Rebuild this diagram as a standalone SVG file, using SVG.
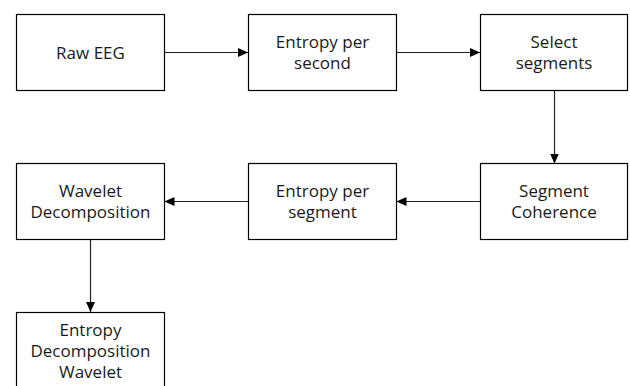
<svg xmlns="http://www.w3.org/2000/svg" width="630" height="386" viewBox="0 0 630 386">
<style>
.box{fill:#fff;stroke:#000;stroke-width:1.2}
.t{font-family:"Open Sans","Liberation Sans",sans-serif;font-size:17px;fill:#1a1a1a;text-anchor:middle}
.c{stroke:#222;stroke-width:1.2;fill:none}
</style>
<defs>
<marker id="ah" viewBox="0 0 10 9" refX="10" refY="4.5" markerWidth="10" markerHeight="9" markerUnits="userSpaceOnUse" orient="auto">
<path d="M0,0 L10,4.5 L0,9 Z" fill="#000"/>
</marker>
</defs>
<rect width="630" height="386" fill="#fff"/>
<g id="connectors">
<line class="c" x1="164.5" y1="52.5" x2="248" y2="52.5" marker-end="url(#ah)"/>
<line class="c" x1="396.5" y1="52.5" x2="480" y2="52.5" marker-end="url(#ah)"/>
<line class="c" x1="554.5" y1="90.5" x2="554.5" y2="163.5" marker-end="url(#ah)"/>
<line class="c" x1="480" y1="201.5" x2="396.5" y2="201.5" marker-end="url(#ah)"/>
<line class="c" x1="248" y1="201.5" x2="164.5" y2="201.5" marker-end="url(#ah)"/>
<line class="c" x1="90.5" y1="240" x2="90.5" y2="312" marker-end="url(#ah)"/>
</g>
<g id="raw-eeg">
<rect class="box" x="16.5" y="14.5" width="148" height="76"/>
<text class="t" x="90.5" y="58.5">Raw EEG</text>
</g>
<g id="entropy-per-second">
<rect class="box" x="248.5" y="14.5" width="148" height="76"/>
<text class="t" x="322.5" y="48">Entropy per</text>
<text class="t" x="322.5" y="69">second</text>
</g>
<g id="select-segments">
<rect class="box" x="480.5" y="14.5" width="147" height="76"/>
<text class="t" x="554" y="48">Select</text>
<text class="t" x="554" y="69">segments</text>
</g>
<g id="segment-coherence">
<rect class="box" x="480.5" y="163.5" width="147" height="76"/>
<text class="t" x="554" y="197">Segment</text>
<text class="t" x="554" y="218">Coherence</text>
</g>
<g id="entropy-per-segment">
<rect class="box" x="248.5" y="163.5" width="148" height="76"/>
<text class="t" x="322.5" y="197">Entropy per</text>
<text class="t" x="322.5" y="218">segment</text>
</g>
<g id="wavelet-decomposition">
<rect class="box" x="16.5" y="163.5" width="148" height="76"/>
<text class="t" x="90.5" y="197">Wavelet</text>
<text class="t" x="90.5" y="218">Decomposition</text>
</g>
<g id="entropy-decomposition-wavelet">
<rect class="box" x="16.5" y="312.5" width="148" height="80"/>
<text class="t" x="90.5" y="336">Entropy</text>
<text class="t" x="90.5" y="357">Decomposition</text>
<text class="t" x="90.5" y="378">Wavelet</text>
</g>
</svg>
